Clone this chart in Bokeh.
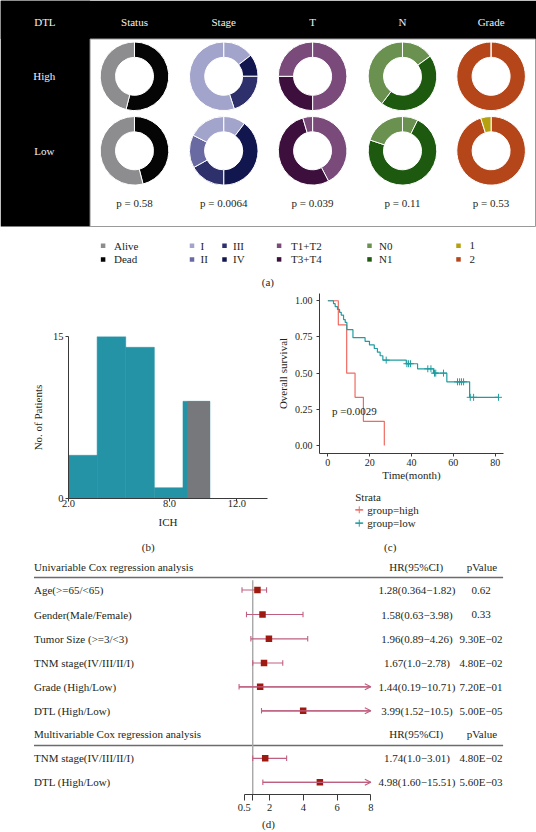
import math
from bokeh.plotting import figure
from bokeh.layouts import column, row
from bokeh.models import (Range1d, FixedTicker, NumeralTickFormatter, ColumnDataSource,
                          Title, Arrow, OpenHead)
from bokeh.core.properties import value
from bokeh.embed import file_html
from bokeh.resources import INLINE

FONT = "Liberation Serif"
INK = "#231f20"

# ---------------- data: panel (a) ----------------
a_columns = ["Status", "Stage", "T", "N", "Grade"]
a_rows = ["High", "Low"]
status_order = ["Dead", "Alive"]
status_high = [0.54, 0.46]
status_low = [0.46, 0.54]
stage_order = ["I", "IV", "III", "II", "I"]
stage_high = [0.145, 0.105, 0.200, 0.0, 0.550]
stage_low = [0.103, 0.397, 0.169, 0.156, 0.175]
t_order = ["T1+T2", "T3+T4", "T1+T2"]
t_high = [0.50, 0.25, 0.25]
t_low = [0.423, 0.531, 0.046]
n_order = ["N0", "N1", "N0"]
n_high = [0.150, 0.453, 0.397]
n_low = [0.073, 0.728, 0.199]
grade_order = ["2", "1"]
grade_high = [1.0, 0.0]
grade_low = [0.951, 0.049]
a_pvalues = ["p = 0.58", "p = 0.0064", "p = 0.039", "p = 0.11", "p = 0.53"]
legend_a_top = ["Alive", "I", "III", "T1+T2", "N0", "1"]
legend_a_bottom = ["Dead", "II", "IV", "T3+T4", "N1", "2"]

# ---------------- data: panel (b) ----------------
ich_low_edges = [2.0, 3.7, 5.4, 7.1, 8.8, 10.4]
ich_low_counts = [4, 15, 14, 1, 9]
ich_high_edges = [9.05, 10.4]
ich_high_counts = [9]
ich_xticks = [2.0, 8.0, 12.0]
ich_xlabels = ["2.0", "8.0", "12.0"]
ich_yticks = [0, 15]

# ---------------- data: panel (c) ----------------
high_time = [0, 5, 9, 13, 17, 27]
high_surv = [1.0, 0.833, 0.5, 0.333, 0.167, 0.0]
low_time = [0, 2.7, 3.5, 4.6, 5.6, 6.4, 7.5, 8.3, 9.1, 12.0, 17.8, 19.9, 22.2, 23.7,
            25.0, 26.3, 37.5, 42.9, 50.5, 56.9, 67.8, 81.6]
low_surv = [1.0, 0.98, 0.96, 0.94, 0.92, 0.90, 0.87, 0.85, 0.80, 0.745, 0.72, 0.695, 0.67,
            0.645, 0.62, 0.59, 0.565, 0.53, 0.50, 0.44, 0.333, 0.333]
low_cens_time = [27.9, 37.8, 38.6, 39.5, 47.8, 49.3, 51.0, 51.6, 55.3, 62.0, 63.0, 63.9,
                 64.9, 68.1, 69.7, 81.6]
low_cens_surv = [0.59, 0.565, 0.565, 0.565, 0.53, 0.53, 0.50, 0.50, 0.50, 0.44, 0.44, 0.44,
                 0.44, 0.333, 0.333, 0.333]
km_xticks = [0, 20, 40, 60, 80]
km_yticks = [0.0, 0.25, 0.5, 0.75, 1.0]
km_pvalue = "p =0.0029"
km_groups = ["group=high", "group=low"]

# ---------------- data: panel (d) ----------------
uni_labels = ["Age(>=65/<65)", "Gender(Male/Female)", "Tumor Size (>=3/<3)",
              "TNM stage(IV/III/II/I)", "Grade (High/Low)", "DTL (High/Low)"]
uni_hr = [1.28, 1.58, 1.96, 1.67, 1.44, 3.99]
uni_lo = [0.364, 0.63, 0.89, 1.0, 0.19, 1.52]
uni_hi = [1.82, 3.98, 4.26, 2.78, 10.71, 10.5]
uni_ci_text = ["1.28(0.364\u22121.82)", "1.58(0.63\u22123.98)", "1.96(0.89\u22124.26)",
               "1.67(1.0\u22122.78)", "1.44(0.19\u221210.71)", "3.99(1.52\u221210.5)"]
uni_p_text = ["0.62", "0.33", "9.30E\u221202", "4.80E\u221202", "7.20E\u221201", "5.00E\u221205"]
multi_labels = ["TNM stage(IV/III/II/I)", "DTL (High/Low)"]
multi_hr = [1.74, 4.98]
multi_lo = [1.0, 1.60]
multi_hi = [3.01, 15.51]
multi_ci_text = ["1.74(1.0\u22123.01)", "4.98(1.60\u221215.51)"]
multi_p_text = ["4.80E\u221202", "5.60E\u221203"]
forest_ticks = [0.5, 1, 2, 4, 6, 8]
forest_tick_labels = ["0.5", "", "2", "4", "6", "8"]
forest_max = 8

# ---------------- styles ----------------
CAT_COLORS = {"Alive": "#8d8d90", "Dead": "#050505",
              "I": "#a3a4cc", "II": "#6a6aa2", "III": "#2e306c", "IV": "#12164f",
              "T1+T2": "#7a4b7a", "T3+T4": "#3d0f3d",
              "N0": "#6a9150", "N1": "#1d5a0f",
              "1": "#b5a010", "2": "#b5461a"}
TEAL_BAR = "#2593a6"
GRAY_BAR = "#77787b"
RED = "#f06a62"
TEAL = "#1f9da0"
CI_COL = "#bf5f80"
BOX_COL = "#9e1a10"
AX = "#3a3a3a"


def base_fig(**kw):
    p = figure(output_backend="svg", toolbar_location=None, **kw)
    p.outline_line_color = None
    p.grid.grid_line_color = None
    p.background_fill_color = "white"
    p.border_fill_color = "white"
    return p


def style_axis(ax, size="10.5px"):
    ax.axis_line_color = AX
    ax.axis_line_width = 1
    ax.major_tick_line_color = AX
    ax.major_tick_in = 0
    ax.major_tick_out = 3
    ax.minor_tick_line_color = None
    ax.major_label_text_font = FONT
    ax.major_label_text_font_size = size
    ax.major_label_text_color = INK
    ax.axis_label_text_font = FONT
    ax.axis_label_text_font_size = "11px"
    ax.axis_label_text_font_style = "normal"
    ax.axis_label_text_color = INK


def txt(p, xs, ys, texts, color=INK, align="center", size="11px", **kw):
    p.text(x=xs, y=ys, text=texts, text_font=value(FONT), text_font_size=size,
           text_color=color, text_align=align, text_baseline="middle", **kw)


# =============== panel (a) ===============
def ya(y):
    return 290.0 - y

pA = base_fig(width=536, height=290, x_range=Range1d(0, 536), y_range=Range1d(0, 290),
              x_axis_location=None, y_axis_location=None, min_border=0)

pA.quad(left=[0, 0], right=[536, 89.6], top=[ya(0), ya(0)], bottom=[ya(38.5), ya(226)],
        fill_color="black", line_color=None)
pA.quad(left=[89.6], right=[535], top=[ya(38.5)], bottom=[ya(226)],
        fill_color="white", line_color="#9a9a9a", line_width=1)

col_x = [134.0, 223.2, 312.1, 402.0, 490.6]
row_y = [75.8, 150.3]
donuts = [(status_order, status_high, status_low), (stage_order, stage_high, stage_low),
          (t_order, t_high, t_low), (n_order, n_high, n_low),
          (grade_order, grade_high, grade_low)]
for ci, (order, fh, fl) in enumerate(donuts):
    for ri, fr in enumerate([fh, fl]):
        xs, ys, ss, es, cs = [], [], [], [], []
        cum = 0.0
        for cat, f in zip(order, fr):
            if f > 0:
                th1 = cum * 2 * math.pi
                th2 = min((cum + f) * 2 * math.pi, 2 * math.pi - 1e-3)
                xs.append(col_x[ci]); ys.append(ya(row_y[ri]))
                ss.append(math.pi / 2 - th2); es.append(math.pi / 2 - th1)
                cs.append(CAT_COLORS[cat])
            cum += f
        src = ColumnDataSource(dict(x=xs, y=ys, s=ss, e=es, c=cs))
        pA.annular_wedge(x="x", y="y", inner_radius=19, outer_radius=34.3,
                         inner_radius_units="screen", outer_radius_units="screen",
                         start_angle="s", end_angle="e", direction="anticlock",
                         fill_color="c", line_color="white", line_width=1, source=src)

txt(pA, [44.4] + col_x, [ya(21.2)] * 6, ["DTL"] + a_columns, color="#f2f2f2")
txt(pA, [43.8, 43.8], [ya(row_y[0]), ya(row_y[1])], a_rows, color="#f2f2f2")
txt(pA, col_x, [ya(202.5)] * 5, a_pvalues)

leg_sq_x = [102.6, 191.5, 224.0, 278.6, 369.0, 458.0]
leg_tx_x = [113.5, 200.0, 232.5, 290.6, 378.5, 469.0]
for labs, yy in [(legend_a_top, 245.3), (legend_a_bottom, 258.9)]:
    pA.scatter(x=leg_sq_x, y=[ya(yy)] * 6, marker="square", size=4.5,
               fill_color=[CAT_COLORS[c] for c in labs], line_color=None)
    txt(pA, leg_tx_x, [ya(yy)] * 6, labs, align="left")
txt(pA, [267.4], [ya(281.2)], ["(a)"])

# =============== panel (b) ===============
pB = base_fig(width=268, height=245, x_range=Range1d(2.0, 13.82), y_range=Range1d(0, 15),
              min_border_left=68, min_border_right=1, min_border_top=46, min_border_bottom=37)
pB.quad(left=ich_low_edges[:-1], right=ich_low_edges[1:], top=ich_low_counts, bottom=0,
        fill_color=TEAL_BAR, line_color=TEAL_BAR, line_width=0.5)
pB.quad(left=ich_high_edges[:-1], right=ich_high_edges[1:], top=ich_high_counts, bottom=0,
        fill_color=GRAY_BAR, line_color=None)
style_axis(pB.xaxis[0])
style_axis(pB.yaxis[0])
pB.xaxis.ticker = FixedTicker(ticks=ich_xticks)
pB.xaxis.major_label_overrides = {t: l for t, l in zip(ich_xticks, ich_xlabels)}
pB.yaxis.ticker = FixedTicker(ticks=ich_yticks)
pB.xaxis.axis_label = "ICH"
pB.yaxis.axis_label = "No. of Patients"
pB.xaxis.major_label_standoff = -2
pB.xaxis.axis_label_standoff = 6
pB.yaxis.major_label_standoff = 2
pB.yaxis.axis_label_standoff = 6

# =============== panel (c) ===============
pC = base_fig(width=268, height=194, x_range=Range1d(-4.0, 84.0), y_range=Range1d(-0.055, 1.05),
              min_border_left=51, min_border_right=33, min_border_top=3, min_border_bottom=31)
pC.step(x=high_time, y=high_surv, mode="after", line_color=RED, line_width=1.2)
pC.step(x=low_time, y=low_surv, mode="after", line_color=TEAL, line_width=1.2)
pC.scatter(x=low_cens_time, y=low_cens_surv, marker="cross", size=7, line_color=TEAL,
           line_width=1)
pC.text(x=[2.0], y=[0.238], text=[km_pvalue], text_font=value(FONT), text_font_size="11px",
        text_color=INK, text_align="left", text_baseline="middle")
style_axis(pC.xaxis[0], "10px")
style_axis(pC.yaxis[0], "10px")
pC.xaxis.ticker = FixedTicker(ticks=km_xticks)
pC.yaxis.ticker = FixedTicker(ticks=km_yticks)
pC.yaxis.formatter = NumeralTickFormatter(format="0.00")
pC.xaxis.axis_label = "Time(month)"
pC.yaxis.axis_label = "Overall survival"
pC.xaxis.major_label_standoff = 2
pC.xaxis.axis_label_standoff = 0
pC.yaxis.major_label_standoff = 4
pC.yaxis.axis_label_standoff = 3

# legend of panel (c) (key drawn in its own small canvas)
pL = base_fig(width=268, height=51, x_range=Range1d(268, 536), y_range=Range1d(535, 484),
              x_axis_location=None, y_axis_location=None, min_border=0)
txt(pL, [320.0], [496.0], ["Strata"], align="left")
key_y = [509.3, 522.7]
pL.segment(x0=[320.0, 320.0], x1=[331.7, 331.7], y0=key_y, y1=key_y,
           line_color=[RED, TEAL], line_width=1.2)
pL.scatter(x=[325.9, 325.9], y=key_y, marker="cross", size=7, line_color=[RED, TEAL],
           line_width=1)
txt(pL, [337.7, 337.7], key_y, km_groups, align="left")

# =============== panel (d) ===============
def v_of_px(px):
    return 2.0 + (px - 269.1) / 16.87

pD = base_fig(width=536, height=297, x_range=Range1d(v_of_px(0), v_of_px(536)),
              y_range=Range1d(794, 535), y_axis_location=None, min_border=0,
              min_border_bottom=38)
pD.extra_x_ranges = {"px": Range1d(0, 536)}

uni_rows = [589.5, 614.0, 638.3, 662.5, 686.3, 710.3]
multi_rows = [757.8, 781.8]
head_rows = [566.3, 733.8]
rule_rows = [577.0, 745.0]

for yy, ttl in zip(head_rows, ["Univariable Cox regression analysis",
                               "Multivariable Cox regression analysis"]):
    txt(pD, [33.5], [yy], [ttl], align="left", x_range_name="px")
    txt(pD, [415.7, 481.4], [yy, yy], ["HR(95%CI)", "pValue"], x_range_name="px")
pD.segment(x0=[33.5, 33.5], x1=[502.6, 502.6], y0=rule_rows, y1=rule_rows,
           line_color="#6b6b6b", line_width=1.6, x_range_name="px")
pD.segment(x0=[1], x1=[1], y0=[579.7], y1=[794], line_color="#a8a8a8", line_width=1.4)

all_rows = uni_rows + multi_rows
all_labels = uni_labels + multi_labels
all_hr = uni_hr + multi_hr
all_lo = uni_lo + multi_lo
all_hi = uni_hi + multi_hi
all_ci = uni_ci_text + multi_ci_text
all_p = uni_p_text + multi_p_text
n = len(all_rows)
txt(pD, [33.5] * n, all_rows, all_labels, align="left", x_range_name="px")
txt(pD, [416.5] * n, all_rows, all_ci, x_range_name="px")
txt(pD, [480.5] * n, all_rows, all_p, x_range_name="px")

hi_clip = [min(h, forest_max) for h in all_hi]
pD.segment(x0=all_lo, x1=hi_clip, y0=all_rows, y1=all_rows, line_color=CI_COL, line_width=1.2)
pD.segment(x0=all_lo, x1=all_lo, y0=[r - 2.7 for r in all_rows], y1=[r + 2.7 for r in all_rows],
           line_color=CI_COL, line_width=1.1)
cap_x = [h for h in all_hi if h <= forest_max]
cap_y = [r for h, r in zip(all_hi, all_rows) if h <= forest_max]
pD.segment(x0=cap_x, x1=cap_x, y0=[r - 2.7 for r in cap_y], y1=[r + 2.7 for r in cap_y],
           line_color=CI_COL, line_width=1.1)
arr_lo = [l for l, h in zip(all_lo, all_hi) if h > forest_max]
arr_y = [r for h, r in zip(all_hi, all_rows) if h > forest_max]
arr_src = ColumnDataSource(dict(x0=arr_lo, x1=[forest_max] * len(arr_lo), y=arr_y))
pD.add_layout(Arrow(source=arr_src, x_start="x0", y_start="y", x_end="x1", y_end="y",
                    line_color=CI_COL, line_width=1.2,
                    end=OpenHead(size=6, line_color=CI_COL, line_width=1.2)))
pD.scatter(x=all_hr, y=all_rows, marker="square", size=6.5, fill_color=BOX_COL, line_color=None)

txt(pD, [147.7, 389.7], [546.0, 546.0], ["(b)", "(c)"], x_range_name="px")

style_axis(pD.xaxis[0], "10.5px")
pD.xaxis.bounds = (forest_ticks[0], forest_ticks[-1])
pD.xaxis.ticker = FixedTicker(ticks=forest_ticks)
pD.xaxis.major_label_overrides = {t: l for t, l in zip(forest_ticks, forest_tick_labels)}
pD.xaxis.major_tick_out = 6
pD.xaxis.major_label_standoff = 3
pD.add_layout(Title(text="(d)", align="center", text_font=FONT, text_font_size="11px",
                    text_font_style="normal", text_color=INK, standoff=4), "below")

layout = column(pA, row(pB, column(pC, pL)), pD)
open("out.html", "w").write(file_html(layout, INLINE, title="DTL figure"))
